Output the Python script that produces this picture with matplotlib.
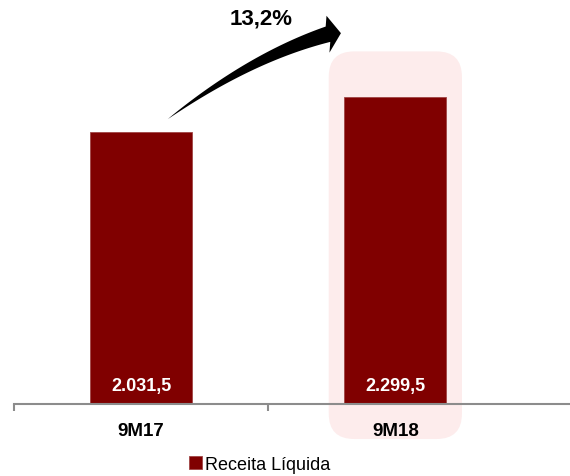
import numpy as np
import matplotlib.pyplot as plt
from matplotlib.patches import FancyBboxPatch, Polygon
from matplotlib.transforms import IdentityTransform

plt.rcParams['font.family'] = ['Liberation Sans', 'DejaVu Sans']

# data
categories = ["9M17", "9M18"]
values = [2031.5, 2299.5]
value_labels = ["2.031,5", "2.299,5"]
growth_label = "13,2%"
series_name = "Receita Líquida"

BAR_COLOR = "#800000"
HIGHLIGHT_COLOR = "#FDECEC"
AXIS_COLOR = "#8C8C8C"

fig = plt.figure(figsize=(5.7, 4.77), dpi=100)
ax = fig.add_axes([14 / 570, 72 / 477, 556 / 570, 405 / 477])

x = np.arange(len(categories))
ax.set_xlim(-0.5, 1.687)
ax.set_ylim(0, 3030)

# highlight behind the last bar
hl = FancyBboxPatch((x[1] - 0.262, -262), 0.524, 2900,
                    boxstyle="round,pad=0,rounding_size=0.1",
                    mutation_aspect=1900, facecolor=HIGHLIGHT_COLOR,
                    edgecolor="none", clip_on=False, zorder=0)
ax.add_patch(hl)

bars = ax.bar(x, values, width=0.4, color=BAR_COLOR, edgecolor="#A04545",
              linewidth=0.6, zorder=2, label=series_name)

for xi, lab in zip(x, value_labels):
    ax.annotate(lab, (xi, 0), xytext=(0, 13), textcoords="offset points",
                ha="center", va="center", color="white", fontsize=13,
                fontweight="bold", zorder=3)

# axis styling
for s in ["top", "right", "left"]:
    ax.spines[s].set_visible(False)
ax.spines["bottom"].set_color(AXIS_COLOR)
ax.spines["bottom"].set_linewidth(1.5)
ax.set_yticks([])
ax.set_xticks(x)
ax.set_xticklabels(categories, fontsize=13.5, fontweight="bold")
ax.tick_params(axis="x", which="major", length=0, pad=13)
ax.set_xticks([-0.5, 0.5], minor=True)
ax.tick_params(axis="x", which="minor", length=5, width=1.5, color=AXIS_COLOR)

# growth arrow (tapered curve), built in display space
fig.canvas.draw()
to_px = ax.transData.transform
p0 = to_px((0.105, values[0] + 100))
c = to_px((0.428, values[0] + 560))
p2 = to_px((0.735, values[0] + 735))
t = np.linspace(0, 1, 60)[:, None]
pts = (1 - t) ** 2 * p0 + 2 * (1 - t) * t * c + t ** 2 * p2
der = 2 * (1 - t) * (c - p0) + 2 * t * (p2 - c)
tang = der / np.linalg.norm(der, axis=1, keepdims=True)
norm = np.column_stack([-tang[:, 1], tang[:, 0]])
w = 8.0 * t[:, 0] ** 0.9
upper = pts + norm * w[:, None]
lower = pts - norm * w[:, None]
head_dir = np.array([1.0, 0.08]) / np.hypot(1.0, 0.08)
head_n = np.array([-head_dir[1], head_dir[0]])
end = pts[-1]
head = [end + head_n * 18.5, end + head_dir * 13, end - head_n * 18.5]
poly = np.vstack([upper, head, lower[::-1]])
ax.add_patch(Polygon(poly, closed=True, facecolor="black", edgecolor="none",
                     transform=IdentityTransform(), clip_on=False, zorder=4))

ax.text(0.474, 2890, growth_label, ha="center", va="center", fontsize=16,
        fontweight="bold")

fig.legend(handles=[bars], labels=[series_name], loc="center",
           bbox_to_anchor=(0.456, 0.024), frameon=False, fontsize=13,
           handlelength=0.7, handleheight=0.7, handletextpad=0.2,
           borderaxespad=0)

fig.savefig("out.png", dpi=100)
